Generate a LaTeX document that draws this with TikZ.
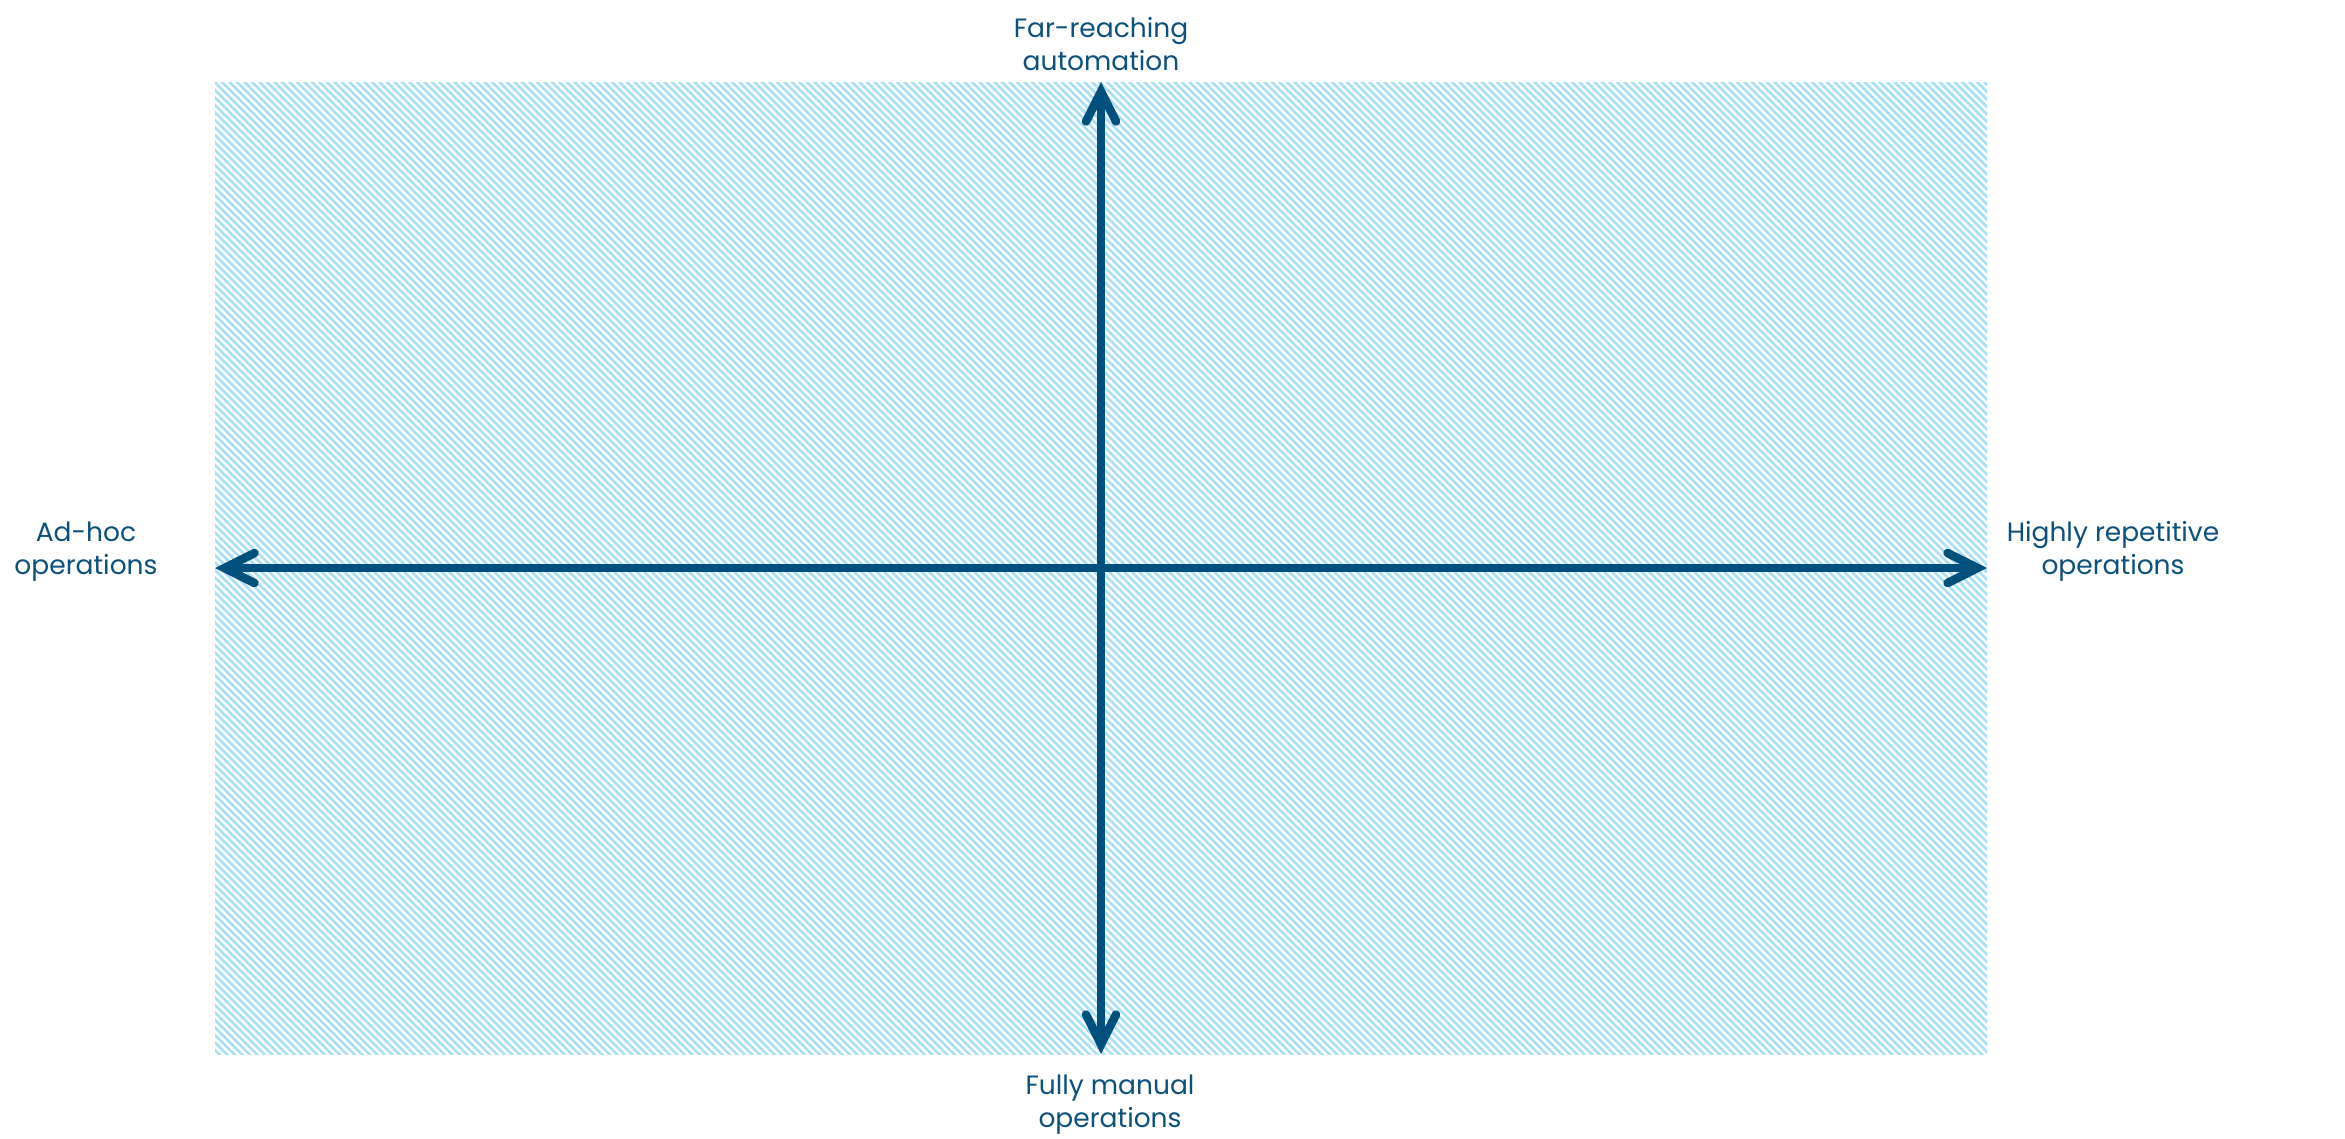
\documentclass[tikz,border=0pt]{standalone}
\usepackage{fontspec}
\setmainfont{Poppins}
\usetikzlibrary{arrows.meta}
\definecolor{axisblue}{RGB}{0,80,125}
\definecolor{textblue}{RGB}{12,80,124}
\definecolor{hatchblue}{RGB}{168,224,247}
\tikzset{
  barb/.tip={Straight Barb[length=30pt, width=30pt, line cap=round, line join=miter]},
  axisline/.style={draw=axisblue, line width=8.5pt, barb-barb},
  hatchline/.style={draw=hatchblue, line width=2.8pt},
  axislabel/.style={text=textblue, font=\fontsize{26.5}{33}\selectfont, align=center, inner sep=0pt}
}
\begin{document}
\begin{tikzpicture}[x=1pt, y=-1pt]
\useasboundingbox (0,0) rectangle (2345,1138);
\fill[white] (0,0) rectangle (2345,1138);
% hatched area
\coordinate (nw) at (215,82);
\coordinate (se) at (1987,1054);
\begin{scope}
  \clip (nw) rectangle (se);
  \foreach \c in {-850,-842.5,...,1915}
    \draw[hatchline] (\c+60,60) -- (\c+1080,1080);
\end{scope}
% axis ends
\coordinate (top) at (1101,82);
\coordinate (bot) at (1101,1054);
\coordinate (left) at (215,568);
\coordinate (right) at (1987,568);
\draw[axisline] (bot) -- (top);
\draw[axisline] (left) -- (right);
% labels (base = baseline of last line)
\node[axislabel, anchor=base] (ltop) at (1101,70) {Far-reaching\\automation};
\node[axislabel, anchor=base] (lbot) at (1110,1127) {Fully manual\\operations};
\node[axislabel, anchor=base] (lleft) at (86,574) {Ad-hoc\\operations};
\node[axislabel, anchor=base] (lright) at (2113,574) {Highly repetitive\\operations};
\end{tikzpicture}
\end{document}
